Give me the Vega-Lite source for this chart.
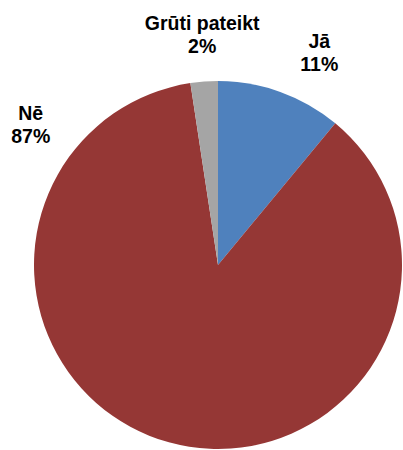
{
  "$schema": "https://vega.github.io/schema/vega-lite/v6.json",
  "width": 436,
  "height": 530,
  "padding": 0,
  "autosize": {"type": "none"},
  "background": "white",
  "view": {"stroke": null},
  "data": {
    "values": [
      {"cat": "Jā", "value": 11.0, "ord": 1, "label": "Jā\n11%"},
      {"cat": "Nē", "value": 86.6, "ord": 2, "label": "Nē\n87%"},
      {"cat": "Grūti pateikt", "value": 2.4, "ord": 3, "label": "Grūti pateikt\n2%"}
    ]
  },
  "encoding": {
    "theta": {"field": "value", "type": "quantitative", "stack": true},
    "order": {"field": "ord", "type": "quantitative"}
  },
  "layer": [
    {
      "mark": {"type": "arc", "radius": 184, "stroke": null},
      "encoding": {
        "color": {
          "field": "cat",
          "type": "nominal",
          "scale": {"domain": ["Jā", "Nē", "Grūti pateikt"], "range": ["#4F81BD", "#953735", "#A5A5A5"]},
          "legend": null
        }
      }
    },
    {
      "mark": {"type": "text", "radius": 237, "dx": 21, "dy": 0, "lineBreak": "\n", "font": "Liberation Sans", "fontWeight": "bold", "fontSize": 19.5, "lineHeight": 23, "align": "center", "baseline": "middle", "color": "#000000"},
      "encoding": {"text": {"condition": {"test": "datum.cat === 'Jā'", "field": "label"}, "value": ""}}
    },
    {
      "mark": {"type": "text", "radius": 237, "dx": -124, "dy": -379, "lineBreak": "\n", "font": "Liberation Sans", "fontWeight": "bold", "fontSize": 19.5, "lineHeight": 23, "align": "center", "baseline": "middle", "color": "#000000"},
      "encoding": {"text": {"condition": {"test": "datum.cat === 'Nē'", "field": "label"}, "value": ""}}
    },
    {
      "mark": {"type": "text", "radius": 237, "dx": 2, "dy": -5, "lineBreak": "\n", "font": "Liberation Sans", "fontWeight": "bold", "fontSize": 19.5, "lineHeight": 23, "align": "center", "baseline": "middle", "color": "#000000"},
      "encoding": {"text": {"condition": {"test": "datum.cat === 'Grūti pateikt'", "field": "label"}, "value": ""}}
    }
  ]
}
